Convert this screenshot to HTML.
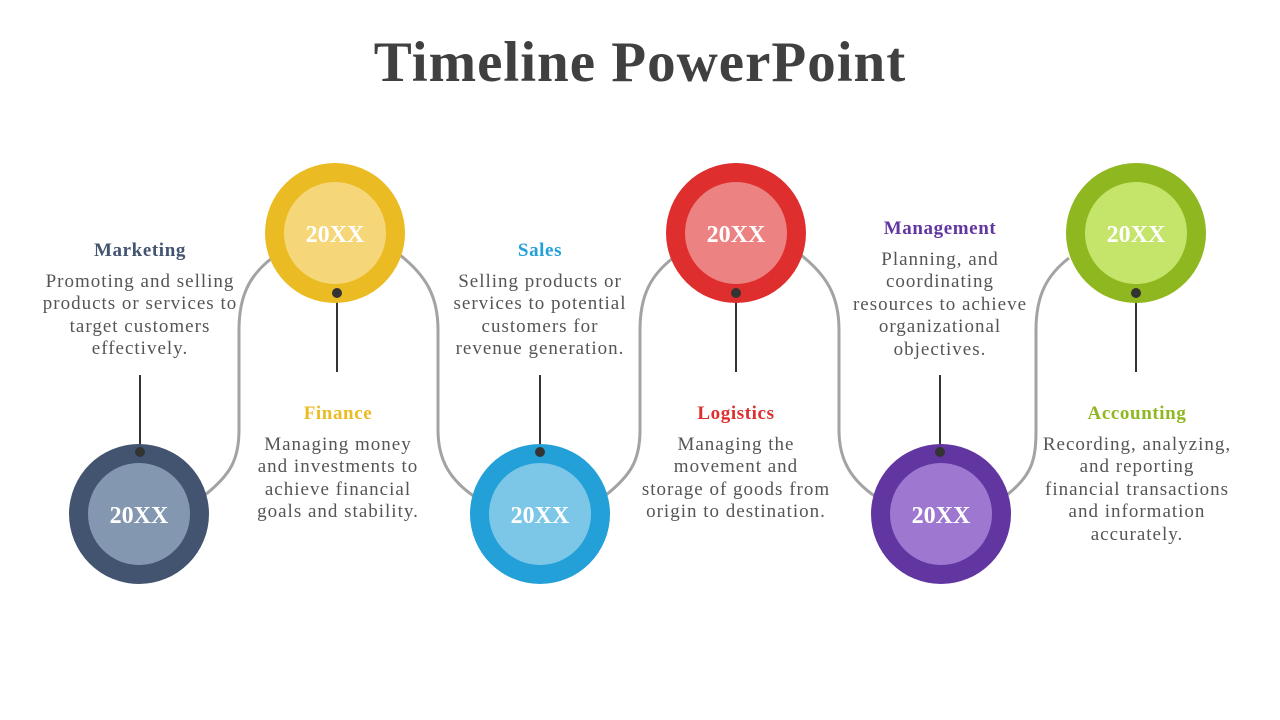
<!DOCTYPE html>
<html><head><meta charset="utf-8"><style>
body{margin:0;width:1280px;height:720px;background:#fff;position:relative;overflow:hidden;font-family:"Liberation Serif",serif}
.t{position:absolute;top:30px;left:0;width:1280px;text-align:center;font-size:57px;letter-spacing:1px;font-weight:bold;color:#404040}
.b{position:absolute;width:260px;text-align:center;font-size:19px;letter-spacing:1px;line-height:22.5px;color:#555;white-space:nowrap}
.b h{display:block;font-weight:bold;font-size:19px;letter-spacing:0.6px;margin-bottom:8px}
</style></head><body>
<div class="t">Timeline PowerPoint</div>
<svg width="1280" height="720" style="position:absolute;left:0;top:0">
<g fill="none" stroke="#a3a3a3" stroke-width="3">
<path d="M205,495 C230,475 239,460 239,430 L239,330 C239,295 250,275 272,258"/>
<path d="M400,255 C425,275 438,295 438,330 L438,430 C438,460 450,480 475,497"/>
<path d="M606,495 C631,475 640,460 640,430 L640,330 C640,295 651,275 673,258"/>
<path d="M801,255 C826,275 839,295 839,330 L839,430 C839,460 851,480 876,497"/>
<path d="M1007,495 C1032,475 1036,460 1036,430 L1036,330 C1036,295 1047,275 1069,258"/>
</g>
<g stroke="#333" stroke-width="2">
<line x1="140" y1="452" x2="140" y2="375"/><line x1="337" y1="293" x2="337" y2="372"/>
<line x1="540" y1="452" x2="540" y2="375"/><line x1="736" y1="293" x2="736" y2="372"/>
<line x1="940" y1="452" x2="940" y2="375"/><line x1="1136" y1="293" x2="1136" y2="372"/>
</g>
<g font-family="Liberation Serif,serif" font-weight="bold" font-size="24" fill="#fff" text-anchor="middle">
<circle cx="139" cy="514" r="70" fill="#435470"/><circle cx="139" cy="514" r="51" fill="#8497b0"/><text x="139" y="523">20XX</text>
<circle cx="335" cy="233" r="70" fill="#ebbb23"/><circle cx="335" cy="233" r="51" fill="#f5d77a"/><text x="335" y="242">20XX</text>
<circle cx="540" cy="514" r="70" fill="#23a0d8"/><circle cx="540" cy="514" r="51" fill="#7cc6e8"/><text x="540" y="523">20XX</text>
<circle cx="736" cy="233" r="70" fill="#de2e2e"/><circle cx="736" cy="233" r="51" fill="#ec8282"/><text x="736" y="242">20XX</text>
<circle cx="941" cy="514" r="70" fill="#6236a0"/><circle cx="941" cy="514" r="51" fill="#9e77d0"/><text x="941" y="523">20XX</text>
<circle cx="1136" cy="233" r="70" fill="#8fb820"/><circle cx="1136" cy="233" r="51" fill="#c5e46a"/><text x="1136" y="242">20XX</text>
</g>
<g fill="#333"><circle cx="140" cy="452" r="5"/><circle cx="337" cy="293" r="5"/><circle cx="540" cy="452" r="5"/><circle cx="736" cy="293" r="5"/><circle cx="940" cy="452" r="5"/><circle cx="1136" cy="293" r="5"/></g>
</svg>
<div class="b" style="left:10px;top:240px"><h style="color:#435470">Marketing</h>Promoting and selling<br>products or services to<br>target customers<br>effectively.</div>
<div class="b" style="left:208px;top:403px"><h style="color:#ebbb23">Finance</h>Managing money<br>and investments to<br>achieve financial<br>goals and stability.</div>
<div class="b" style="left:410px;top:240px"><h style="color:#23a0d8">Sales</h>Selling products  or<br>services to potential<br>customers for<br>revenue generation.</div>
<div class="b" style="left:606px;top:403px"><h style="color:#de2e2e">Logistics</h>Managing the<br>movement and<br>storage of goods from<br>origin to destination.</div>
<div class="b" style="left:810px;top:218px"><h style="color:#6236a0">Management</h>Planning, and<br>coordinating<br>resources to achieve<br>organizational<br>objectives.</div>
<div class="b" style="left:1007px;top:403px"><h style="color:#8fb820">Accounting</h>Recording, analyzing,<br>and reporting<br>financial transactions<br>and information<br>accurately.</div>
</body></html>
